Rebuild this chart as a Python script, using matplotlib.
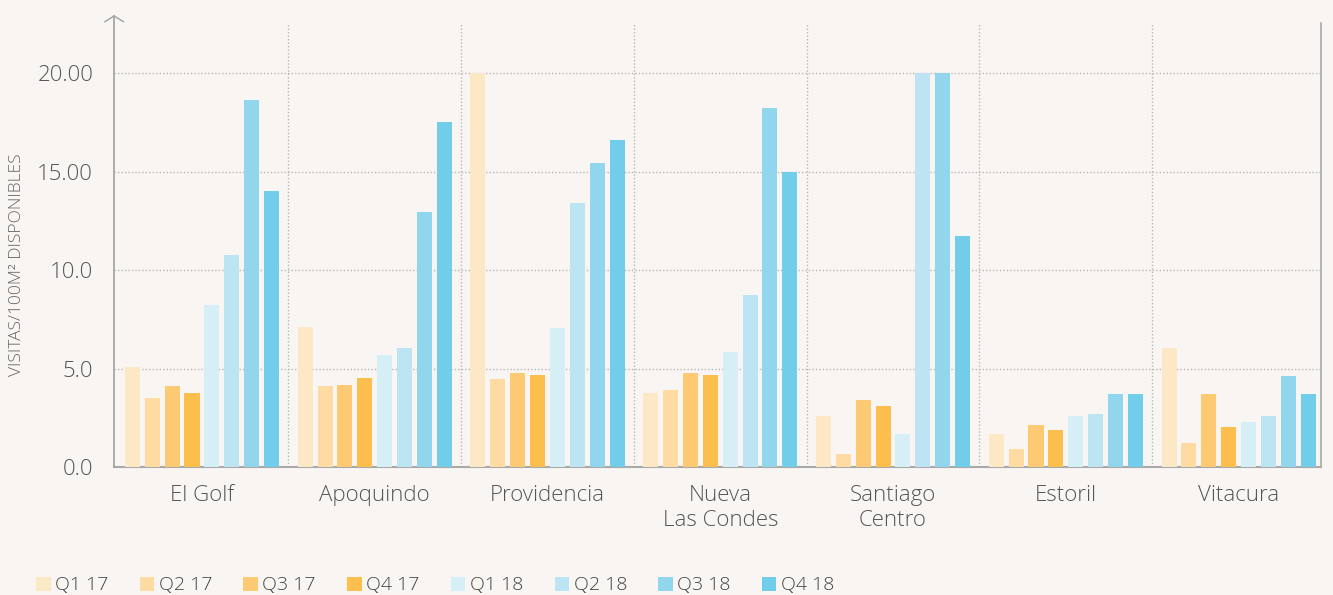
import matplotlib
matplotlib.use("Agg")
import matplotlib.pyplot as plt
from matplotlib.patches import Rectangle
from matplotlib.ticker import FixedLocator, FixedFormatter
import numpy as np

plt.rcParams['font.family'] = ['Open Sans', 'DejaVu Sans']
plt.rcParams['font.weight'] = 'light'

categories = ["El Golf", "Apoquindo", "Providencia", "Nueva\nLas Condes",
              "Santiago\nCentro", "Estoril", "Vitacura"]
series_names = ["Q1 17", "Q2 17", "Q3 17", "Q4 17", "Q1 18", "Q2 18", "Q3 18", "Q4 18"]
colors = ["#fde8c6", "#fddba2", "#fdca73", "#fcbe4d",
          "#d6eef6", "#bde4f3", "#92d6ed", "#71cde9"]

q1_17 = [5.10, 7.14, 20.00, 3.79, 2.60, 1.67, 6.07]
q2_17 = [3.50, 4.13, 4.50, 3.92, 0.69, 0.91, 1.22]
q3_17 = [4.14, 4.16, 4.77, 4.77, 3.42, 2.15, 3.70]
q4_17 = [3.75, 4.53, 4.69, 4.69, 3.13, 1.91, 2.06]
q1_18 = [8.24, 5.70, 7.09, 5.85, 1.67, 2.60, 2.28]
q2_18 = [10.80, 6.07, 13.43, 8.73, 20.00, 2.72, 2.60]
q3_18 = [18.64, 12.96, 15.45, 18.24, 20.00, 3.70, 4.62]
q4_18 = [14.01, 17.51, 16.63, 14.99, 11.76, 3.70, 3.70]

ytick_values = [0, 5, 10, 15, 20]
ytick_labels = ["0.0", "5.0", "10.0", "15.00", "20.00"]

series = [q1_17, q2_17, q3_17, q4_17, q1_18, q2_18, q3_18, q4_18]

W, H = 1333, 595
bg = "#f9f5f2"
fig = plt.figure(figsize=(W / 100, H / 100), dpi=100, facecolor=bg)
ax = fig.add_axes([114 / W, 1 - 467.3 / H, (1321 - 114) / W, (467.3 - 23) / H])
ax.set_facecolor(bg)

n = len(categories)
x = np.arange(n) + 0.5
step = 0.115
width = 0.087
for j, (vals, c) in enumerate(zip(series, colors)):
    ax.bar(x + (j - 3.5) * step, vals, width=width, color=c,
           edgecolor="none", zorder=3)

ax.set_xlim(-0.009, n - 0.023)
ax.set_ylim(0, 22.55)

# grid lines
grid_c = "#b9b6b4"
for v in ytick_values[1:]:
    ax.axhline(v, color=grid_c, lw=1.0, ls=(0, (1, 1.5)), zorder=1)
for k in range(1, n):
    ax.axvline(k, color=grid_c, lw=1.0, ls=(0, (1, 1.5)), zorder=1)

ax.spines["top"].set_visible(False)
ax.spines["right"].set_color("#a9a9a9")
ax.spines["right"].set_linewidth(1.2)
ax.spines["bottom"].set_color("#a9a9a9")
ax.spines["bottom"].set_linewidth(1.5)
ax.spines["left"].set_visible(False)

# left axis with arrow
ax.plot([0, 0], [0, 1.0158], transform=ax.transAxes, color="#a0a0a0",
        lw=1.2, clip_on=False, zorder=4)
ax.plot([-0.0075, 0, 0.0078], [1.003, 1.0158, 1.003], transform=ax.transAxes,
        color="#a0a0a0", lw=1.0, clip_on=False, zorder=4)

ax.yaxis.set_major_locator(FixedLocator(ytick_values))
ax.yaxis.set_major_formatter(FixedFormatter(ytick_labels))
ax.tick_params(axis="y", length=0, pad=15, labelsize=16, labelcolor="#555555")
ax.set_xticks(x)
ax.set_xticklabels(categories)
ax.tick_params(axis="x", length=0, pad=13, labelsize=16, labelcolor="#555555")
for t in ax.get_xticklabels():
    t.set_linespacing(1.2)

fig.text(17 / W, 1 - 265 / H, "VISITAS/100M² DISPONIBLES", rotation=90,
         ha="center", va="center", fontsize=12.5, color="#666666")

# legend
for j, (name, c) in enumerate(zip(series_names, colors)):
    x0 = 36 + j * 103.7
    fig.add_artist(Rectangle((x0 / W, 1 - 591 / H), 14.5 / W, 14.5 / H,
                             transform=fig.transFigure, facecolor=c,
                             edgecolor="none"))
    fig.text((x0 + 19) / W, 1 - 585 / H, name, ha="left", va="center",
             fontsize=14, color="#444444")

fig.savefig("out.png", dpi=100, facecolor=bg)
